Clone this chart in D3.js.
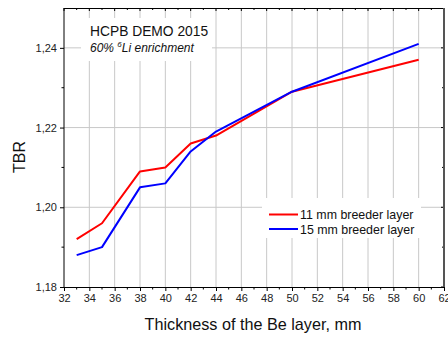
<!DOCTYPE html>
<html>
<head>
<meta charset="utf-8">
<script src="https://cdn.jsdelivr.net/npm/d3@7"></script>
<style>
  html, body { margin: 0; padding: 0; background: #fff; }
  svg { display: block; font-family: "Liberation Sans", Arial, sans-serif; }
</style>
</head>
<body>
<svg id="chart" width="448" height="338"></svg>
<script>
// Be layer thickness (mm) and tritium breeding ratio per breeder layer
const thickness = [33, 35, 38, 40, 42, 44, 50, 60];
const tbr11 = [1.192, 1.196, 1.209, 1.210, 1.216, 1.218, 1.229, 1.237];
const tbr15 = [1.188, 1.190, 1.205, 1.206, 1.214, 1.219, 1.229, 1.241];
const seriesNames = ["11 mm breeder layer", "15 mm breeder layer"];
const seriesColors = ["#ff0000", "#0000ff"];
const xTicks = d3.range(32, 63, 2);
const yTicks = [1.18, 1.20, 1.22, 1.24];
const yMinor = [1.19, 1.21, 1.23];

const svg = d3.select("#chart");
const m = { left: 64, right: 444, top: 8, bottom: 287 };

const x = d3.scaleLinear().domain([32, 62]).range([m.left, m.right]);
const y = d3.scaleLinear().domain([1.18, 1.25]).range([m.bottom, m.top]);
const fmt = d => d.toFixed(2).replace(".", ",");

// grid
const grid = svg.append("g").attr("stroke", "#c8c8c8").attr("stroke-width", 1);
xTicks.filter(v => v > 32 && v < 62).forEach(v => {
  grid.append("line").attr("x1", x(v)).attr("x2", x(v)).attr("y1", m.top).attr("y2", m.bottom);
});
yTicks.filter(v => v > 1.18).forEach(v => {
  grid.append("line").attr("x1", m.left).attr("x2", m.right).attr("y1", y(v)).attr("y2", y(v));
});

// annotation box (covers grid)
svg.append("rect").attr("x", 81).attr("y", 18).attr("width", 131).attr("height", 43).attr("fill", "#fff");
svg.append("text").attr("x", 90).attr("y", 35.5).attr("font-size", 13.8).attr("fill", "#111").text("HCPB DEMO 2015");
const t2 = svg.append("text").attr("x", 90).attr("y", 52).attr("font-size", 12).attr("font-style", "italic").attr("fill", "#111");
t2.append("tspan").text("60% ");
t2.append("tspan").attr("font-size", 8).attr("dy", -5).text("6");
t2.append("tspan").attr("dy", 5).text("Li enrichment");

// data lines
const line = d3.line().x((d, i) => x(thickness[i])).y(d => y(d));
[tbr11, tbr15].forEach((s, i) => {
  svg.append("path").datum(s).attr("d", line).attr("fill", "none")
    .attr("stroke", seriesColors[i]).attr("stroke-width", 2).attr("stroke-linejoin", "round");
});

// axes
const xAxis = d3.axisBottom(x).tickValues(xTicks).tickFormat(d3.format("d")).tickSize(4).tickPadding(3);
const gx = svg.append("g").attr("transform", `translate(0,${m.bottom})`).call(xAxis);
gx.select(".domain").attr("stroke", "#000");
gx.selectAll("text").attr("font-size", 11).attr("font-family", "Liberation Sans, Arial, sans-serif").attr("fill", "#222");

const xMinor = d3.range(33, 62, 2);
svg.append("g").selectAll("line").data(xMinor).join("line")
  .attr("x1", d => x(d)).attr("x2", d => x(d)).attr("y1", m.bottom).attr("y2", m.bottom + 2.5).attr("stroke", "#000");

const yAxis = d3.axisLeft(y).tickValues(yTicks).tickFormat(fmt).tickSize(4).tickPadding(3);
const gy = svg.append("g").attr("transform", `translate(${m.left},0)`).call(yAxis);
gy.select(".domain").remove();
gy.selectAll("text").attr("font-size", 11).attr("font-family", "Liberation Sans, Arial, sans-serif").attr("fill", "#222");
svg.append("g").selectAll("line").data(yMinor).join("line")
  .attr("x1", m.left - 2.5).attr("x2", m.left).attr("y1", d => y(d)).attr("y2", d => y(d)).attr("stroke", "#000");

// top ticks (inward)
svg.append("g").selectAll("line").data(d3.range(32, 63, 1)).join("line")
  .attr("x1", d => x(d)).attr("x2", d => x(d)).attr("y1", m.top)
  .attr("y2", d => m.top + (d % 2 === 0 ? 3 : 2)).attr("stroke", "#000");
// right ticks (inward)
svg.append("g").selectAll("line").data(yTicks.concat(yMinor)).join("line")
  .attr("x1", m.right).attr("x2", d => m.right - (yTicks.includes(d) ? 3 : 2))
  .attr("y1", d => y(d)).attr("y2", d => y(d)).attr("stroke", "#000");

// frame
svg.append("line").attr("x1", m.left).attr("x2", m.left).attr("y1", m.top).attr("y2", m.bottom).attr("stroke", "#000");
svg.append("line").attr("x1", m.left).attr("x2", m.right).attr("y1", m.top + 0.5).attr("y2", m.top + 0.5).attr("stroke", "#000");
svg.append("line").attr("x1", m.right).attr("x2", m.right).attr("y1", m.top).attr("y2", m.bottom).attr("stroke", "#555").attr("stroke-width", 2);

// legend
svg.append("rect").attr("x", 262).attr("y", 198).attr("width", 159).attr("height", 40).attr("fill", "#fff");
seriesNames.forEach((name, i) => {
  const ly = 214.5 + i * 14.5;
  svg.append("line").attr("x1", 269).attr("x2", 298).attr("y1", ly).attr("y2", ly)
    .attr("stroke", seriesColors[i]).attr("stroke-width", 2);
  svg.append("text").attr("x", 300).attr("y", ly + 4.5).attr("font-size", 12.4).attr("fill", "#111").text(name);
});

// axis titles
svg.append("text").attr("x", 253).attr("y", 330).attr("text-anchor", "middle")
  .attr("font-size", 16.2).attr("fill", "#111").text("Thickness of the Be layer, mm");
svg.append("text").attr("transform", "translate(24.5,157) rotate(-90)")
  .attr("text-anchor", "middle").attr("font-size", 16).attr("fill", "#111").text("TBR");
</script>
</body>
</html>
